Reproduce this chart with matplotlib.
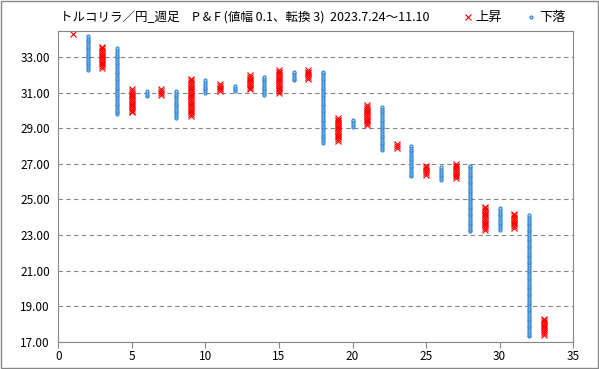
import numpy as np
import matplotlib
matplotlib.use("Agg")
import matplotlib.pyplot as plt
from matplotlib.patches import Rectangle

plt.rcParams['font.family'] = ['Noto Sans CJK JP', 'DejaVu Sans']

# P&F columns: column number, direction, first box, last box (box size 0.1)
col_no = list(range(1, 34))
col_dir = ['X', 'O', 'X', 'O', 'X', 'O', 'X', 'O', 'X', 'O', 'X',
           'O', 'X', 'O', 'X', 'O', 'X', 'O', 'X', 'O', 'X', 'O',
           'X', 'O', 'X', 'O', 'X', 'O', 'X', 'O', 'X', 'O', 'X']
col_from = [34.3, 34.2, 32.4, 33.5, 29.9, 31.1, 30.9, 31.1, 29.7, 31.7, 31.1,
            31.4, 31.2, 31.9, 31.0, 32.2, 31.8, 32.2, 28.3, 29.5, 29.2, 30.2,
            27.9, 28.0, 26.4, 26.8, 26.2, 26.9, 23.3, 24.5, 23.4, 24.1, 17.4]
col_to = [34.3, 32.3, 33.6, 29.8, 31.2, 30.8, 31.2, 29.6, 31.8, 31.0, 31.5,
          31.1, 32.0, 30.9, 32.3, 31.7, 32.3, 28.2, 29.6, 29.1, 30.3, 27.8,
          28.1, 26.3, 26.9, 26.1, 27.0, 23.2, 24.6, 23.3, 24.2, 17.3, 18.3]

box = 0.1
title = 'トルコリラ／円_週足　P & F (値幅 0.1、転換 3)  2023.7.24～11.10'

up_x, up_y, dn_x, dn_y = [], [], [], []
for c, d, a, b in zip(col_no, col_dir, col_from, col_to):
    lo, hi = min(a, b), max(a, b)
    n = int(round((hi - lo) / box)) + 1
    vals = lo + box * np.arange(n)
    if d == 'X':
        up_x += [c] * n
        up_y += list(vals)
    else:
        dn_x += [c] * n
        dn_y += list(vals)

fig = plt.figure(figsize=(5.99, 3.69), dpi=100)
ax = fig.add_axes([0.0973, 0.074, 0.8597, 0.843])

ax.plot(up_x, up_y, linestyle='none', marker='x', color='#FF0000',
        markersize=3.8, markeredgewidth=0.8, label='上昇')
ax.plot(dn_x, dn_y, linestyle='none', marker='o', markerfacecolor='#BDD7EE',
        markeredgecolor='#2E86D6', markersize=2.2, markeredgewidth=0.8, label='下落')

ax.set_xlim(0, 35)
ax.set_ylim(17, 34.5)
ax.set_xticks(np.arange(0, 36, 5))
ax.set_yticks(np.arange(17, 34, 2))
ax.yaxis.set_major_formatter(matplotlib.ticker.FormatStrFormatter('%.2f'))
ax.tick_params(axis='y', length=0, labelsize=8.5, pad=6)
ax.tick_params(axis='x', length=4, width=0.8, color='#868686', labelsize=8.5, pad=2)
ax.grid(axis='y', color='#868686', linestyle=(0, (4, 3)), linewidth=0.8)
for s in ax.spines.values():
    s.set_color('#868686')
    s.set_linewidth(0.8)

fig.text(0.1, 0.952, title, fontsize=9, va='center', ha='left')
ax.legend(loc='center right', bbox_to_anchor=(0.955, 0.952),
          bbox_transform=fig.transFigure, ncol=2, frameon=False, fontsize=9.5,
          handlelength=0.8, handletextpad=0.2, columnspacing=1.8, borderpad=0)

fig.patches.append(Rectangle((0.001, 0.002), 0.997, 0.995, transform=fig.transFigure,
                             fill=False, edgecolor='#868686', linewidth=1))

fig.savefig('out.png', dpi=100)
